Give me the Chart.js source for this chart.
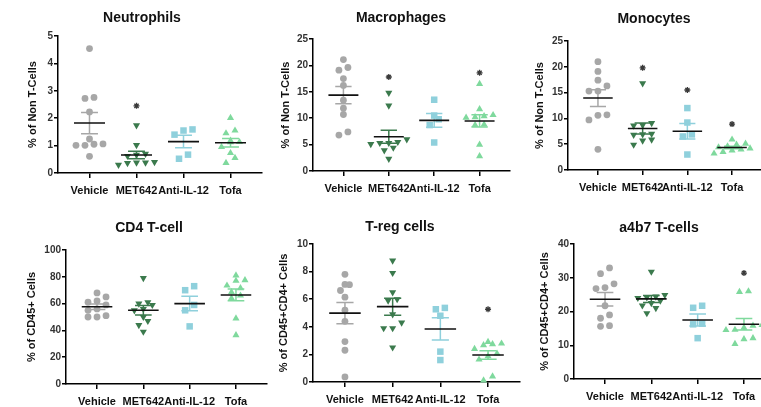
<!DOCTYPE html>
<html><head><meta charset="utf-8">
<script src="https://cdn.jsdelivr.net/npm/chart.js"></script>
<style>
html,body{margin:0;padding:0;background:#fff;overflow:hidden;width:761px;height:407px;}
.p{position:absolute;left:0;width:800px;}
</style></head>
<body>
<div class="p" style="top:0;height:200px"><canvas id="c1" width="800" height="200"></canvas></div>
<div class="p" style="top:0;height:200px"><canvas id="c2" width="800" height="200"></canvas></div>
<div class="p" style="top:0;height:200px"><canvas id="c3" width="800" height="200"></canvas></div>
<div class="p" style="top:200px;height:207px"><canvas id="c4" width="800" height="207"></canvas></div>
<div class="p" style="top:200px;height:207px"><canvas id="c5" width="800" height="207"></canvas></div>
<div class="p" style="top:200px;height:207px"><canvas id="c6" width="800" height="207"></canvas></div>
<script>
// ---------- DATA ----------
const categories = ['Vehicle', 'MET642', 'Anti-IL-12', 'Tofa'];

const neutrophilsVehicle = [4.54, 2.76, 2.72, 2.23, 1.24, 1.06, 1.05, 1.01, 1.01, 0.61];
const neutrophilsMET642  = [1.74, 1.02, 0.70, 0.66, 0.62, 0.40, 0.38, 0.38, 0.36, 0.30];
const neutrophilsAntiIL12 = [1.59, 1.55, 1.40, 0.67, 0.52];
const neutrophilsTofa    = [2.01, 1.55, 1.45, 1.18, 1.13, 1.12, 0.95, 0.73, 0.55, 0.37];
const neutrophilsSig     = [null, 2.45, null, null];

const macrophagesVehicle = [21.1, 19.6, 19.1, 17.5, 16.2, 13.4, 11.9, 10.7, 7.4, 6.8];
const macrophagesMET642  = [14.8, 12.4, 6.0, 5.5, 5.3, 5.3, 5.1, 4.4, 3.9, 2.3];
const macrophagesAntiIL12 = [13.5, 10.5, 9.8, 8.7, 5.4];
const macrophagesTofa    = [16.5, 11.7, 10.6, 10.4, 10.2, 10.1, 8.8, 8.7, 5.0, 2.8];
const macrophagesSig     = [null, 17.8, null, 18.6];

const monocytesVehicle = [21.0, 19.1, 17.4, 16.3, 15.3, 15.3, 10.7, 10.6, 9.7, 4.0];
const monocytesMET642  = [16.8, 9.1, 8.7, 8.6, 7.0, 6.9, 6.8, 5.9, 5.7, 4.9];
const monocytesAntiIL12 = [12.0, 9.2, 6.9, 6.5, 3.0];
const monocytesTofa    = [5.9, 5.1, 4.9, 4.6, 4.4, 4.2, 4.0, 3.8, 3.5, 3.2];
const monocytesSig     = [null, 19.8, 15.5, 8.9];

const cd4Vehicle = [68, 65, 62, 61, 59, 56, 55, 51, 50, 50];
const cd4MET642  = [79, 61, 60, 59, 56, 55, 50, 47, 44, 39];
const cd4AntiIL12 = [73, 70, 59, 55, 43];
const cd4Tofa    = [81, 77.5, 77, 73.5, 71.5, 68.5, 66, 64, 49, 36.5];
const cd4Sig     = [null, null, null, null];

const tregVehicle = [7.8, 7.07, 7.05, 6.63, 6.15, 5.2, 4.4, 2.93, 2.3, 0.37];
const tregMET642  = [8.8, 7.9, 6.5, 6.0, 5.9, 4.9, 4.3, 3.9, 3.9, 2.5];
const tregAntiIL12 = [5.37, 5.27, 4.8, 2.2, 1.59];
const tregTofa    = [2.91, 2.79, 2.74, 2.67, 2.4, 2.06, 1.87, 1.63, 0.41, 0.12];
const tregSig     = [null, null, null, 5.27];

const a4b7Vehicle = [32.9, 31.2, 28.2, 27.1, 26.8, 21.7, 19.0, 18.0, 15.8, 15.6];
const a4b7MET642  = [31.8, 24.9, 24.4, 24.2, 24.0, 23.2, 22.5, 21.8, 21.0, 19.5];
const a4b7AntiIL12 = [21.7, 21.1, 16.4, 16.2, 12.1];
const a4b7Tofa    = [26.0, 25.8, 16.0, 15.8, 15.2, 14.6, 14.5, 12.1, 11.8, 10.4];
const a4b7Sig     = [null, null, null, 31.4];

// ---------- STYLE / LAYOUT ----------
const FONT = "'Liberation Sans', Arial, sans-serif";
const groupStyles = [
  {color: '#a7a7a7', pointStyle: 'circle',   radius: 3.4, rotation: 0},
  {color: '#3b7a4d', pointStyle: 'triangle', radius: 4.1, rotation: 180},
  {color: '#8fd0dc', pointStyle: 'rect',     radius: 4.6, rotation: 0},
  {color: '#7fd99d', pointStyle: 'triangle', radius: 4.1, rotation: 0}
];

const panels = [
  {id: 'c1', H: 200, title: 'Neutrophils', yTitle: '% of Non T-Cells', yMax: 5, step: 1,
   groups: [neutrophilsVehicle, neutrophilsMET642, neutrophilsAntiIL12, neutrophilsTofa], sig: neutrophilsSig,
   padL: 22, plotL: 58, plotR: 262, top: 36, bottom: 173, titleY: 18, yTitleX: 33},
  {id: 'c2', H: 200, title: 'Macrophages', yTitle: '% of Non T-Cells', yMax: 25, step: 5,
   groups: [macrophagesVehicle, macrophagesMET642, macrophagesAntiIL12, macrophagesTofa], sig: macrophagesSig,
   padL: 292, plotL: 313, plotR: 510, top: 39, bottom: 171, titleY: 18, yTitleX: 286},
  {id: 'c3', H: 200, title: 'Monocytes', yTitle: '% of Non T-Cells', yMax: 25, step: 5,
   groups: [monocytesVehicle, monocytesMET642, monocytesAntiIL12, monocytesTofa], sig: monocytesSig,
   padL: 546, plotL: 568, plotR: 762, top: 41, bottom: 170, titleY: 19, yTitleX: 540},
  {id: 'c4', H: 207, title: 'CD4 T-cell', yTitle: '% of CD45+ Cells', yMax: 100, step: 20,
   groups: [cd4Vehicle, cd4MET642, cd4AntiIL12, cd4Tofa], sig: cd4Sig,
   padL: 31, plotL: 66, plotR: 267, top: 50, bottom: 184, titleY: 27.7, yTitleX: 32},
  {id: 'c5', H: 207, title: 'T-reg cells', yTitle: '% of CD45+CD4+ Cells', yMax: 10, step: 2,
   groups: [tregVehicle, tregMET642, tregAntiIL12, tregTofa], sig: tregSig,
   padL: 280, plotL: 313, plotR: 520, top: 44, bottom: 182, titleY: 26.7, yTitleX: 284},
  {id: 'c6', H: 207, title: 'a4b7 T-cells', yTitle: '% of CD45+CD4+ Cells', yMax: 40, step: 10,
   groups: [a4b7Vehicle, a4b7MET642, a4b7AntiIL12, a4b7Tofa], sig: a4b7Sig,
   padL: 543, plotL: 574, plotR: 775, top: 44, bottom: 179, titleY: 28.3, yTitleX: 545}
];

const XMIN = 0.33, XMAX = 4.67;

function mean(a) { return a.reduce((s, v) => s + v, 0) / a.length; }
function sem(a) {
  const m = mean(a);
  const v = a.reduce((s, x) => s + (x - m) * (x - m), 0) / (a.length - 1);
  return Math.sqrt(v) / Math.sqrt(a.length);
}
// row-based scatter layout (points sharing a row are spread side by side)
function rowSpread(values, pxY, pxX, rowH, S) {
  const idx = values.map((v, i) => i).sort((a, b) => values[a] - values[b]);
  const rows = [];
  let cur = null;
  for (const i of idx) {
    const y = values[i] * pxY;
    if (!cur || y - cur.start > rowH) { cur = {start: y, items: []}; rows.push(cur); }
    cur.items.push(i);
  }
  const off = new Array(values.length);
  rows.forEach(r => {
    const n = r.items.length;
    r.items.forEach((i, k) => { off[i] = ((k - (n - 1) / 2) * S) / pxX; });
  });
  return off;
}

panels.forEach(P => {
  const pxY = (P.bottom - P.top) / P.yMax;
  const pxX = (P.plotR - P.plotL) / (XMAX - XMIN);
  const datasets = [];
  const meanData = [];
  P.groups.forEach((vals, g) => {
    const st = groupStyles[g];
    const m = mean(vals), s = sem(vals), cx = g + 1;
    const off = rowSpread(vals, pxY, pxX, 6, 9);
    datasets.push({
      type: 'scatter', order: 3, clip: false,
      data: vals.map((v, i) => ({x: cx + off[i], y: v})),
      pointStyle: st.pointStyle, pointRadius: st.radius, rotation: st.rotation,
      backgroundColor: st.color, borderColor: st.color, borderWidth: 0
    });
    datasets.push({
      type: 'scatter', order: 1, showLine: true, spanGaps: false, clip: false,
      data: [{x: cx, y: m - s}, {x: cx, y: m + s}, {x: cx, y: null},
             {x: cx - 0.18, y: m + s}, {x: cx + 0.18, y: m + s}, {x: cx, y: null},
             {x: cx - 0.18, y: m - s}, {x: cx + 0.18, y: m - s}],
      borderColor: st.color, borderWidth: 1.5, pointRadius: 0
    });
    meanData.push({x: cx - 0.33, y: m}, {x: cx + 0.33, y: m}, {x: cx, y: null});
  });
  datasets.push({
    type: 'scatter', order: 0, showLine: true, spanGaps: false, clip: false,
    data: meanData, borderColor: '#111', borderWidth: 1.6, pointRadius: 0
  });
  const sigPts = P.sig.map((v, g) => v == null ? null : {x: g + 1, y: v}).filter(p => p);
  if (sigPts.length) datasets.push({
    type: 'scatter', order: 0, clip: false, data: sigPts,
    pointStyle: 'star', pointRadius: 3, borderColor: '#3a3a3a', borderWidth: 1.3, backgroundColor: '#3a3a3a'
  });

  const tLH = 14 * 1.2;
  const tPadTop = P.titleY - tLH / 2;
  const tPadBot = P.top - tLH - tPadTop;
  const yLH = 11 * 1.2;

  new Chart(document.getElementById(P.id), {
    type: 'scatter',
    data: {datasets},
    options: {
      responsive: false, animation: false, events: [],
      layout: {padding: {left: P.padL, right: 800 - P.plotR, top: 0, bottom: 0}},
      plugins: {
        legend: {display: false}, tooltip: {enabled: false},
        title: {display: true, text: P.title, color: '#111',
                font: {family: FONT, size: 14, weight: 'bold'},
                padding: {top: tPadTop, bottom: tPadBot}}
      },
      scales: {
        x: {
          type: 'linear', min: XMIN, max: XMAX,
          afterBuildTicks: ax => { ax.ticks = categories.map((c, i) => ({value: i + 1})); },
          afterFit: ax => { ax.height = P.H - P.bottom; },
          ticks: {callback: v => categories[Math.round(v) - 1], color: '#111',
                  font: {family: FONT, size: 11, weight: 'bold'},
                  maxRotation: 0, minRotation: 0, autoSkip: false, padding: 6},
          grid: {drawOnChartArea: false, drawTicks: true, tickLength: 5, color: '#000', lineWidth: 1.5},
          border: {display: true, color: '#000', width: 1.5}
        },
        y: {
          min: 0, max: P.yMax,
          afterFit: ax => { ax.width = P.plotL - P.padL; },
          ticks: {stepSize: P.step, color: '#333', padding: 1,
                  font: {family: FONT, size: 10, weight: 'bold'}},
          grid: {drawOnChartArea: false, drawTicks: true, tickLength: 4, color: '#000', lineWidth: 1.5},
          border: {display: true, color: '#000', width: 1.5},
          title: {display: true, text: P.yTitle, color: '#111',
                  font: {family: FONT, size: 11, weight: 'bold'},
                  padding: {top: P.yTitleX - yLH / 2 - P.padL, bottom: 0}}
        }
      }
    }
  });
});
</script>
</body></html>
